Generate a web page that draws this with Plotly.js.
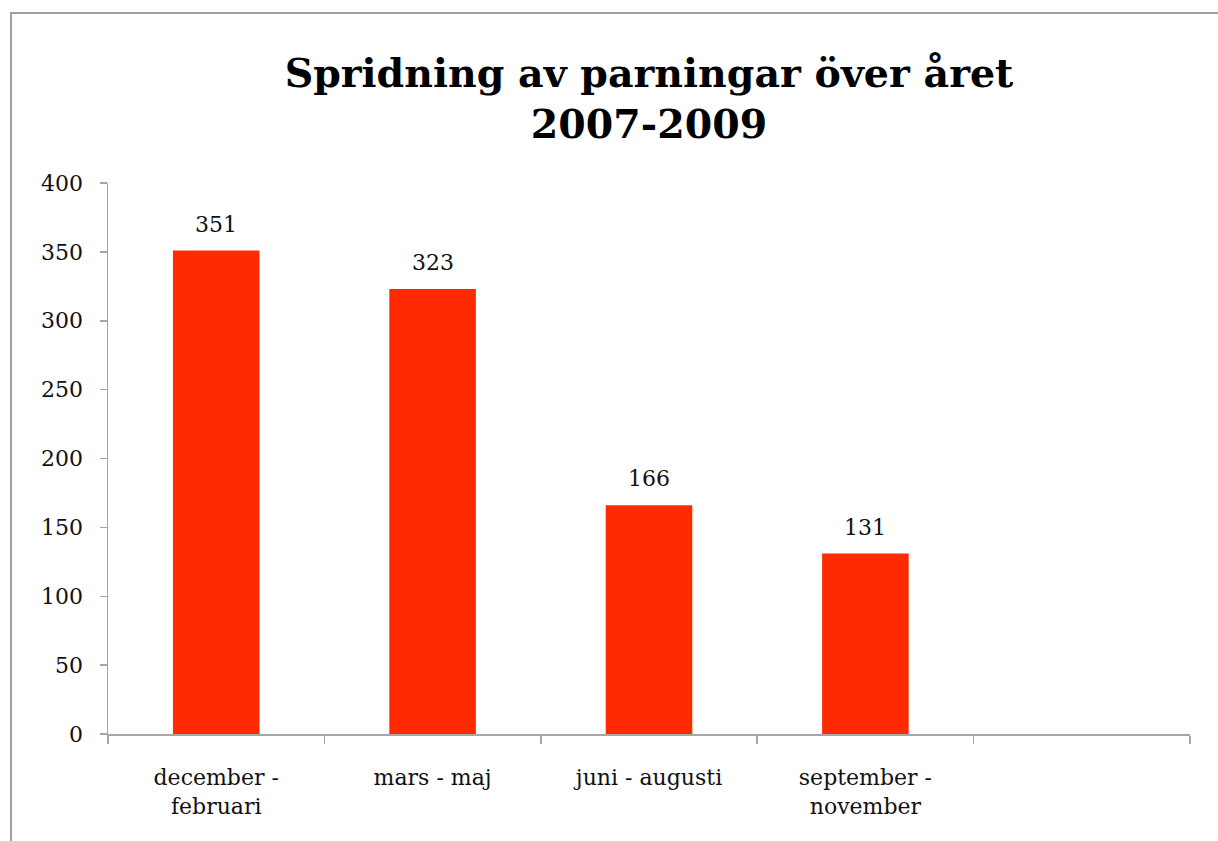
<!DOCTYPE html>
<html>
<head>
<meta charset="utf-8">
<script src="https://cdn.plot.ly/plotly-3.0.1.min.js"></script>
<style>
  html, body { margin: 0; padding: 0; background: #fff; }
  #chart { width: 1218px; height: 841px; }
  #frame { position: absolute; left: 10px; top: 12px; width: 1230px; height: 860px;
           border: 2px solid #a0a0a0; pointer-events: none; box-sizing: border-box; }
</style>
</head>
<body>
<div id="chart"></div>
<div id="frame"></div>
<script>
const titleLines = ["Spridning av parningar över året", "2007-2009"];
const categories = ["december -<br>februari", "mars - maj", "juni - augusti", "september -<br>november"];
const values = [351, 323, 166, 131];
const yTicks = [0, 50, 100, 150, 200, 250, 300, 350, 400];

const positions = categories.map((c, i) => i);
const FONT = "DejaVu Serif, serif";
const AXIS = "#a6a6a6";

const traces = [{
  type: "bar",
  x: positions,
  y: values,
  width: 0.4,
  marker: { color: "#ff2a00" },
  hoverinfo: "skip",
  xaxis: "x",
  yaxis: "y"
}, {
  // invisible trace so the label axis (xaxis2) is drawn
  type: "scatter", x: positions, y: values.map(() => null), xaxis: "x2", yaxis: "y",
  mode: "markers", marker: { opacity: 0 }, hoverinfo: "skip"
}];

const annotations = values.map((v, i) => ({
  x: i, y: v, xref: "x", yref: "y",
  text: String(v), showarrow: false,
  yanchor: "bottom", yshift: 12,
  font: { family: FONT, size: 22, color: "#111" }
}));

const layout = {
  width: 1218, height: 841,
  margin: { l: 108, r: 28, t: 183, b: 107 },
  paper_bgcolor: "#fff", plot_bgcolor: "#fff",
  showlegend: false,
  title: {
    text: "<b>" + titleLines.join("<br>") + "</b>",
    font: { family: FONT, size: 39.5, color: "#000" },
    x: 0.5, xanchor: "center", xref: "paper",
    y: 0.8965, yanchor: "top", yref: "container"
  },
  xaxis: {
    range: [-0.5, 4.5],
    tickmode: "linear", tick0: -0.5, dtick: 1,
    showticklabels: false,
    ticks: "outside", ticklen: 8, tickcolor: AXIS, tickwidth: 1.5,
    showline: true, linecolor: AXIS, linewidth: 1.5,
    showgrid: false, zeroline: false, fixedrange: true
  },
  xaxis2: {
    overlaying: "x", matches: "x", side: "bottom", anchor: "y",
    range: [-0.5, 4.5],
    tickmode: "array", tickvals: positions, ticktext: categories,
    ticks: "", showline: false, showgrid: false, zeroline: false,
    ticklabelstandoff: 28,
    tickfont: { family: FONT, size: 22, color: "#111" }
  },
  yaxis: {
    range: [0, 400],
    tickmode: "array", tickvals: yTicks,
    ticks: "outside", ticklen: 7, tickcolor: AXIS, tickwidth: 1.5,
    showline: true, linecolor: AXIS, linewidth: 1.5,
    showgrid: false, zeroline: false,
    ticklabelstandoff: 12,
    tickfont: { family: FONT, size: 22, color: "#111" }
  },
  annotations: annotations
};

Plotly.newPlot("chart", traces, layout, { staticPlot: true, displayModeBar: false });
</script>
</body>
</html>
